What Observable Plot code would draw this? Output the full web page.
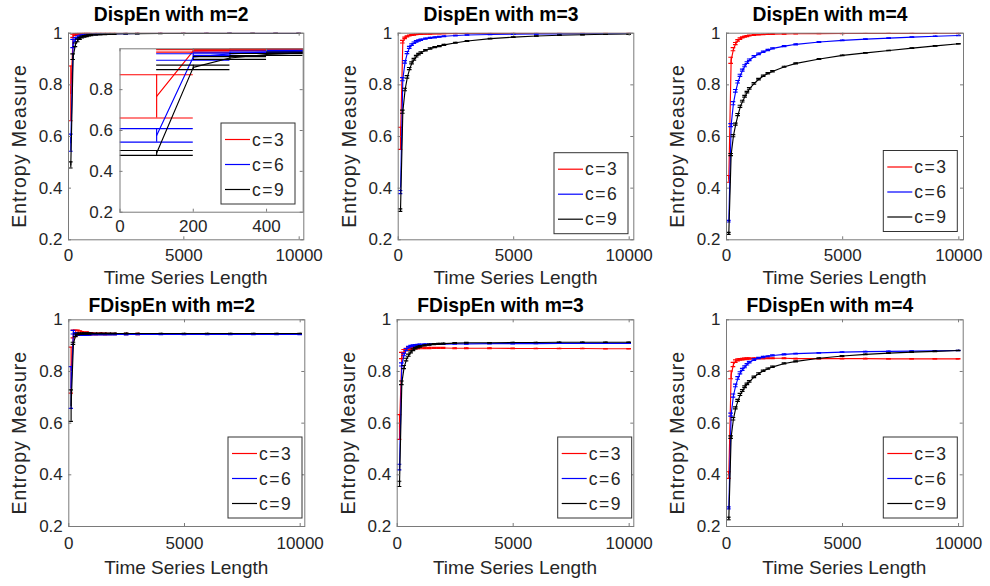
<!DOCTYPE html>
<html><head><meta charset="utf-8">
<script src="https://cdn.jsdelivr.net/npm/d3@7"></script>
<script src="https://cdn.jsdelivr.net/npm/@observablehq/plot@0.6"></script>
<style>
html,body{margin:0;padding:0;background:#fff;}
#page{position:relative;width:990px;height:586px;overflow:hidden;background:#fff;}
#page svg{position:absolute;left:0;top:0;}
</style></head><body><div id="page"></div>
<script>
// ---------- data ----------
const lengths = [100,200,300,400,500,600,700,800,900,1000,1200,1400,1600,1800,2000,2500,3000,4000,5000,6000,7000,8000,9000,10000];
const seriesLabels = ["c=3","c=6","c=9"];
const seriesColors = ["#ff0000","#0000ff","#000000"];
const xTicksMain = [0,5000,10000];
const yTicksMain = [0.2,0.4,0.6,0.8,1];
const xTicksInset = [0,200,400];
const yTicksInset = [0.2,0.4,0.6,0.8];
const titles = ["DispEn with m=2","DispEn with m=3","DispEn with m=4","FDispEn with m=2","FDispEn with m=3","FDispEn with m=4"];
const xLabel = "Time Series Length";
const yLabel = "Entropy Measure";

// DispEn m=2
const dispM2_c3 = [0.767,0.990,0.995,0.997,0.998,0.998,0.9985,0.999,0.999,0.999,0.9993,0.9994,0.9995,0.9996,0.9996,0.9997,0.9998,0.9998,0.9999,0.9999,0.9999,0.9999,0.9999,1.0];
const dispM2_c3_err = [0.106,0.006,0.004,0.003,0.002,0.002,0.002,0.0015,0.0015,0.001,0.001,0.001,0.001,0.001,0.001,0.0008,0.0006,0.0005,0.0004,0.0004,0.0003,0.0003,0.0003,0.0003];
const dispM2_c6 = [0.576,0.960,0.975,0.984,0.988,0.991,0.992,0.993,0.994,0.995,0.996,0.997,0.9975,0.998,0.998,0.9985,0.999,0.9993,0.9995,0.9996,0.9997,0.9997,0.9998,0.9998];
const dispM2_c6_err = [0.033,0.016,0.008,0.005,0.004,0.003,0.003,0.0025,0.002,0.002,0.002,0.0015,0.0015,0.001,0.001,0.001,0.0008,0.0006,0.0005,0.0004,0.0004,0.0003,0.0003,0.0003];
const dispM2_c9 = [0.490,0.909,0.955,0.972,0.980,0.985,0.988,0.990,0.9915,0.993,0.994,0.995,0.996,0.9965,0.997,0.998,0.9985,0.999,0.9993,0.9995,0.9996,0.9997,0.9997,0.9998];
const dispM2_c9_err = [0.012,0.011,0.007,0.005,0.004,0.0035,0.003,0.003,0.0025,0.0025,0.002,0.002,0.0015,0.0015,0.0015,0.001,0.001,0.0008,0.0006,0.0005,0.0005,0.0004,0.0004,0.0003];
// DispEn m=3
const dispM3_c3 = [0.593,0.967,0.982,0.988,0.991,0.993,0.994,0.995,0.996,0.9965,0.997,0.9975,0.998,0.998,0.9985,0.999,0.999,0.9993,0.9995,0.9996,0.9997,0.9997,0.9998,0.9998];
const dispM3_c3_err = [0.043,0.005,0.003,0.002,0.002,0.0015,0.0015,0.001,0.001,0.001,0.001,0.001,0.0008,0.0008,0.0007,0.0006,0.0005,0.0004,0.0004,0.0003,0.0003,0.0003,0.0002,0.0002];
const dispM3_c6 = [0.385,0.822,0.889,0.925,0.945,0.956,0.963,0.968,0.972,0.975,0.979,0.982,0.984,0.986,0.988,0.991,0.993,0.995,0.996,0.997,0.9975,0.998,0.9985,0.999];
const dispM3_c6_err = [0.006,0.006,0.005,0.004,0.004,0.003,0.003,0.003,0.0025,0.0025,0.002,0.002,0.002,0.0015,0.0015,0.0012,0.001,0.0008,0.0006,0.0005,0.0005,0.0004,0.0004,0.0003];
const dispM3_c9 = [0.315,0.696,0.782,0.831,0.863,0.885,0.899,0.911,0.919,0.925,0.934,0.941,0.946,0.950,0.955,0.963,0.970,0.979,0.985,0.989,0.992,0.994,0.996,0.997];
const dispM3_c9_err = [0.005,0.006,0.005,0.005,0.004,0.004,0.0035,0.003,0.003,0.003,0.0025,0.0025,0.002,0.002,0.002,0.0015,0.0015,0.001,0.001,0.0008,0.0007,0.0006,0.0005,0.0005];
// DispEn m=4
const dispM4_c3 = [0.436,0.895,0.938,0.960,0.972,0.979,0.984,0.987,0.989,0.991,0.993,0.994,0.995,0.996,0.9965,0.997,0.998,0.9985,0.999,0.9993,0.9995,0.9996,0.9997,0.9997];
const dispM4_c3_err = [0.013,0.012,0.006,0.004,0.003,0.003,0.002,0.002,0.002,0.0015,0.0015,0.001,0.001,0.001,0.001,0.0008,0.0007,0.0006,0.0005,0.0004,0.0004,0.0003,0.0003,0.0003];
const dispM4_c6 = [0.272,0.644,0.729,0.777,0.812,0.837,0.857,0.874,0.886,0.897,0.910,0.920,0.928,0.935,0.941,0.950,0.957,0.966,0.972,0.977,0.981,0.985,0.988,0.991];
const dispM4_c6_err = [0.003,0.006,0.006,0.005,0.005,0.004,0.004,0.004,0.0035,0.003,0.003,0.003,0.0025,0.0025,0.002,0.002,0.002,0.0015,0.0012,0.001,0.001,0.0008,0.0008,0.0007];
const dispM4_c9 = [0.225,0.530,0.603,0.648,0.685,0.717,0.737,0.756,0.772,0.786,0.806,0.822,0.835,0.845,0.853,0.870,0.883,0.900,0.914,0.924,0.933,0.942,0.951,0.959];
const dispM4_c9_err = [0.004,0.004,0.004,0.004,0.004,0.004,0.0035,0.0035,0.003,0.003,0.003,0.003,0.0025,0.0025,0.0025,0.002,0.002,0.0018,0.0015,0.0012,0.001,0.001,0.001,0.0008];
// FDispEn m=2
const fdispM2_c3 = [0.805,0.945,0.948,0.950,0.949,0.947,0.946,0.947,0.946,0.946,0.945,0.946,0.945,0.945,0.945,0.945,0.945,0.945,0.945,0.945,0.945,0.945,0.945,0.945];
const fdispM2_c3_err = [0.089,0.015,0.012,0.010,0.008,0.007,0.006,0.006,0.005,0.005,0.004,0.004,0.004,0.003,0.003,0.003,0.003,0.002,0.002,0.002,0.002,0.002,0.0015,0.0015];
const fdispM2_c6 = [0.738,0.952,0.946,0.944,0.943,0.943,0.943,0.943,0.943,0.943,0.943,0.943,0.943,0.943,0.943,0.943,0.943,0.943,0.943,0.943,0.943,0.943,0.943,0.943];
const fdispM2_c6_err = [0.081,0.007,0.005,0.004,0.003,0.003,0.003,0.0025,0.0025,0.002,0.002,0.002,0.002,0.0015,0.0015,0.0015,0.001,0.001,0.001,0.001,0.0008,0.0008,0.0008,0.0008];
const fdispM2_c9 = [0.668,0.909,0.940,0.945,0.946,0.947,0.947,0.947,0.947,0.947,0.947,0.947,0.947,0.947,0.947,0.947,0.947,0.947,0.947,0.947,0.947,0.947,0.947,0.947];
const fdispM2_c9_err = [0.061,0.004,0.005,0.004,0.003,0.003,0.003,0.0025,0.0025,0.002,0.002,0.002,0.002,0.0015,0.0015,0.0015,0.001,0.001,0.001,0.001,0.0008,0.0008,0.0008,0.0008];
// FDispEn m=3
const fdispM3_c3 = [0.585,0.862,0.878,0.885,0.888,0.889,0.890,0.890,0.891,0.891,0.891,0.891,0.891,0.891,0.891,0.890,0.890,0.890,0.889,0.889,0.889,0.889,0.888,0.888];
const fdispM3_c3_err = [0.048,0.012,0.007,0.005,0.004,0.004,0.003,0.003,0.003,0.003,0.0025,0.0025,0.002,0.002,0.002,0.002,0.0015,0.0015,0.0012,0.001,0.001,0.001,0.001,0.001];
const fdispM3_c6 = [0.430,0.827,0.866,0.885,0.894,0.898,0.900,0.902,0.903,0.904,0.905,0.905,0.906,0.906,0.906,0.907,0.907,0.908,0.908,0.908,0.909,0.909,0.909,0.909];
const fdispM3_c6_err = [0.011,0.006,0.005,0.004,0.003,0.003,0.003,0.0025,0.0025,0.002,0.002,0.002,0.0015,0.0015,0.0015,0.0012,0.001,0.001,0.001,0.0008,0.0008,0.0008,0.0007,0.0007];
const fdispM3_c9 = [0.365,0.756,0.817,0.846,0.863,0.876,0.884,0.890,0.894,0.897,0.901,0.904,0.906,0.907,0.908,0.910,0.911,0.911,0.912,0.912,0.913,0.913,0.913,0.913];
const fdispM3_c9_err = [0.010,0.007,0.006,0.005,0.004,0.004,0.0035,0.003,0.003,0.003,0.0025,0.0025,0.002,0.002,0.002,0.0015,0.0015,0.0012,0.001,0.001,0.001,0.0008,0.0008,0.0008];
// FDispEn m=4
const fdispM4_c3 = [0.399,0.787,0.827,0.840,0.845,0.847,0.848,0.849,0.850,0.850,0.851,0.851,0.851,0.851,0.851,0.851,0.850,0.850,0.850,0.850,0.849,0.849,0.849,0.849];
const fdispM4_c3_err = [0.013,0.015,0.008,0.005,0.004,0.003,0.003,0.003,0.0025,0.0025,0.002,0.002,0.002,0.0015,0.0015,0.0015,0.0012,0.001,0.001,0.001,0.0008,0.0008,0.0008,0.0008];
const fdispM4_c6 = [0.272,0.633,0.707,0.746,0.775,0.795,0.808,0.818,0.828,0.836,0.846,0.852,0.856,0.859,0.862,0.866,0.869,0.872,0.875,0.877,0.878,0.879,0.880,0.881];
const fdispM4_c6_err = [0.004,0.006,0.006,0.005,0.005,0.004,0.004,0.0035,0.003,0.003,0.003,0.0025,0.0025,0.002,0.002,0.002,0.0015,0.0015,0.0012,0.001,0.001,0.001,0.0008,0.0008];
const fdispM4_c9 = [0.231,0.546,0.617,0.659,0.688,0.711,0.726,0.741,0.752,0.762,0.779,0.792,0.803,0.811,0.818,0.831,0.839,0.851,0.860,0.866,0.871,0.875,0.878,0.881];
const fdispM4_c9_err = [0.005,0.005,0.005,0.004,0.004,0.004,0.0035,0.0035,0.003,0.003,0.003,0.003,0.0025,0.0025,0.0025,0.002,0.002,0.0018,0.0015,0.0012,0.001,0.001,0.001,0.0008];

// ---------- layout ----------
const W = 990, H = 586;
const FONT = "'Liberation Sans', Arial, Helvetica, sans-serif";
const AXIS = "#7a7a7a", TEXT = "#262626";
const panels = [
  {series:[[dispM2_c3,dispM2_c3_err],[dispM2_c6,dispM2_c6_err],[dispM2_c9,dispM2_c9_err]], l:68, r:303.3, t:32.7, b:239.3, xPad:9, legend:null},
  {series:[[dispM3_c3,dispM3_c3_err],[dispM3_c6,dispM3_c6_err],[dispM3_c9,dispM3_c9_err]], l:397.7, r:633.3, t:32.7, b:239.3, xPad:9, legend:[554,152.7]},
  {series:[[dispM4_c3,dispM4_c3_err],[dispM4_c6,dispM4_c6_err],[dispM4_c9,dispM4_c9_err]], l:726, r:963, t:32.7, b:239.3, xPad:9, legend:[883.3,150.5]},
  {series:[[fdispM2_c3,fdispM2_c3_err],[fdispM2_c6,fdispM2_c6_err],[fdispM2_c9,fdispM2_c9_err]], l:68.3, r:304.3, t:319.3, b:526, xPad:10.5, legend:[228,437]},
  {series:[[fdispM3_c3,fdispM3_c3_err],[fdispM3_c6,fdispM3_c6_err],[fdispM3_c9,fdispM3_c9_err]], l:396.7, r:633.3, t:319.3, b:526, xPad:10.5, legend:[557.7,437]},
  {series:[[fdispM4_c3,fdispM4_c3_err],[fdispM4_c6,fdispM4_c6_err],[fdispM4_c9,fdispM4_c9_err]], l:726, r:962.7, t:319.3, b:526, xPad:10.5, legend:[883.3,437]}
];
const inset = {series: panels[0].series, l:119.5, r:302.7, t:48.3, b:211.7, xPad:8, legend:[221,123]};

function makePlot(p, opts) {
  const fw = p.r - p.l, fh = p.b - p.t, cap = opts.cap;
  const marks = [];
  if (opts.fillFrame) marks.push(Plot.frame({fill: "white", stroke: "none"}));
  p.series.forEach((s, k) => {
    const rows = lengths.map((x, i) => ({x, y: s[0][i], e: s[1][i]}));
    const st = {stroke: seriesColors[k], strokeWidth: 1.15, clip: true};
    marks.push(Plot.ruleX(rows, {x: "x", y1: d => d.y - d.e, y2: d => d.y + d.e, ...st}));
    marks.push(Plot.ruleY(rows, {y: d => d.y - d.e, x1: d => d.x - cap, x2: d => d.x + cap, ...st}));
    marks.push(Plot.ruleY(rows, {y: d => d.y + d.e, x1: d => d.x - cap, x2: d => d.x + cap, ...st}));
    marks.push(Plot.line(rows, {x: "x", y: "y", ...st}));
  });
  const tl = 3;
  marks.push(Plot.tickY(opts.yTicks, {y: d => d, insetRight: fw - tl, stroke: AXIS}));
  marks.push(Plot.tickY(opts.yTicks, {y: d => d, insetLeft: fw - tl, stroke: AXIS}));
  marks.push(Plot.tickX(opts.xTicks, {x: d => d, insetTop: fh - tl, stroke: AXIS}));
  marks.push(Plot.tickX(opts.xTicks, {x: d => d, insetBottom: fh - tl, stroke: AXIS}));
  marks.push(Plot.frame({stroke: AXIS, strokeWidth: 1}));
  return Plot.plot({
    width: W, height: H,
    marginLeft: p.l, marginRight: W - p.r, marginTop: p.t, marginBottom: H - p.b,
    x: {domain: opts.xDomain, ticks: opts.xTicks, tickSize: 0, tickPadding: p.xPad, tickFormat: d => String(d), label: null},
    y: {domain: [0.2, 1], ticks: opts.yTicks, tickSize: 0, tickPadding: opts.yPad, tickFormat: d => String(d), label: null},
    style: {background: "transparent", fontFamily: FONT, fontSize: "17px", color: TEXT, overflow: "visible"},
    marks
  });
}

const page = document.getElementById("page");
panels.forEach(p => {
  page.appendChild(makePlot(p, {cap: 100, xDomain: [0, 10200], xTicks: xTicksMain, yTicks: yTicksMain, yPad: 6}));
});
page.appendChild(makePlot(inset, {cap: 100, xDomain: [0, 500], xTicks: xTicksInset, yTicks: yTicksInset, yPad: 7, fillFrame: true}));

// ---------- text overlay: titles, axis labels, legends ----------
const ov = d3.select(page).append("svg").attr("width", W).attr("height", H)
  .attr("font-family", FONT);
panels.forEach((p, i) => {
  const cx = (p.l + p.r) / 2, cy = (p.t + p.b) / 2;
  const row2 = i >= 3;
  ov.append("text").attr("x", cx - 14.5).attr("y", row2 ? 311.7 : 21)
    .attr("text-anchor", "middle").attr("font-weight", "bold").attr("font-size", 19.3)
    .attr("fill", "#000").text(titles[i]);
  ov.append("text").attr("x", cx).attr("y", row2 ? 574 : 284)
    .attr("text-anchor", "middle").attr("font-size", 19).attr("fill", TEXT).text(xLabel);
  ov.append("text").attr("transform", `translate(${p.l - 49},${cy + 10}) rotate(-90)`)
    .attr("text-anchor", "middle").attr("dominant-baseline", "central")
    .attr("font-size", 19.5).attr("letter-spacing", 1).attr("fill", TEXT).text(yLabel);
});
function legend(pos) {
  const [x0, y0] = pos, w = 74, h = 81;
  const g = ov.append("g").attr("transform", `translate(${x0},${y0})`);
  g.append("rect").attr("width", w).attr("height", h).attr("fill", "white").attr("stroke", "#333").attr("stroke-width", 1);
  seriesLabels.forEach((lab, k) => {
    const yy = 16.5 + 25 * k;
    g.append("line").attr("x1", 4).attr("x2", 29).attr("y1", yy).attr("y2", yy).attr("stroke", seriesColors[k]).attr("stroke-width", 1.2);
    g.append("text").attr("x", 31).attr("y", yy).attr("dominant-baseline", "central")
      .attr("font-size", 17.5).attr("letter-spacing", 1.5).attr("fill", TEXT).text(lab);
  });
}
legend(inset.legend);
panels.forEach(p => { if (p.legend) legend(p.legend); });
</script></body></html>
